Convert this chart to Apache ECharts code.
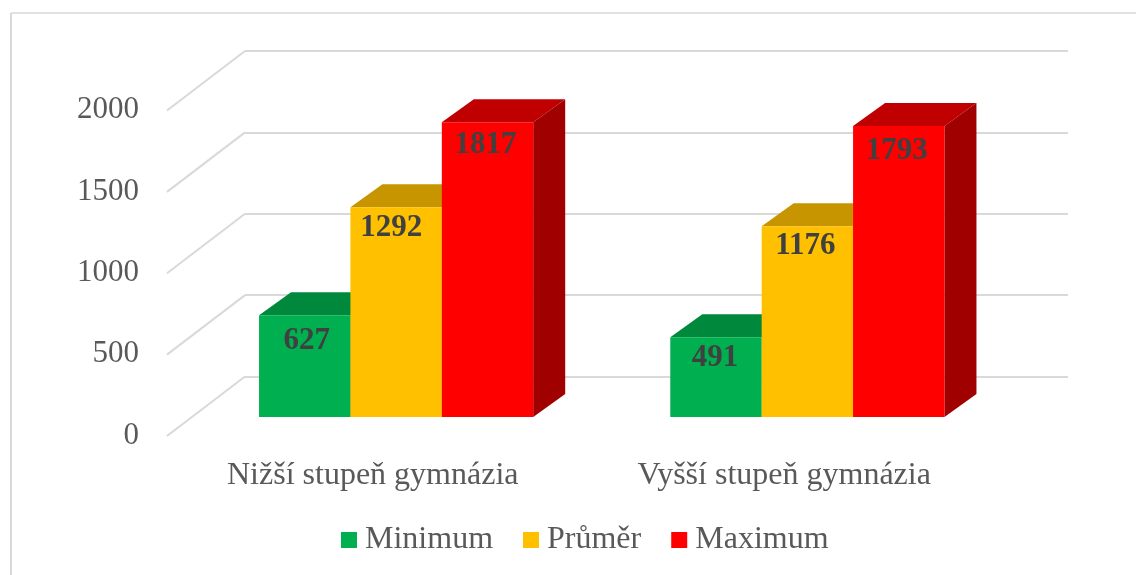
<!DOCTYPE html>
<html>
<head>
<meta charset="utf-8">
<style>html,body{margin:0;padding:0;background:#fff;overflow:hidden}#c{width:1136px;height:575px}</style>
<script src="https://cdn.jsdelivr.net/npm/echarts@6/dist/echarts.min.js"></script>
</head>
<body>
<div id="c"></div>
<script>
const categories = ['Nižší stupeň gymnázia', 'Vyšší stupeň gymnázia'];
const minimum = [627, 491];
const prumer = [1292, 1176];
const maximum = [1817, 1793];
const ticks = [0, 500, 1000, 1500, 2000];
const names = ['Minimum', 'Průměr', 'Maximum'];
const values = [minimum, prumer, maximum];
const front = ['#00B050', '#FFC000', '#FF0000'];
const topC = ['#00883D', '#C79500', '#C00000'];
const sideC = ['#006E32', '#A37A00', '#A00000'];
const labelShift = [[2, 3], [-1, -2], [-5, -2], [-2, -3], [-2, 0], [-2, 2]];
const gapFrac = 1 / 3, depthX = 32, depthY = 23;
const serif = '"Liberation Serif","Times New Roman",serif';

const chart = echarts.init(document.getElementById('c'), null, {renderer: 'canvas'});
const faces = values.map((vals, s) => ({
  type: 'custom', xAxisIndex: 0, yAxisIndex: 0, z: 2, silent: true, clip: false,
  data: vals.map((v, i) => [i, v]), encode: {x: 0, y: 1},
  renderItem: (p, api) => {
    const pt = api.coord([api.value(0), api.value(1)]);
    const y0 = api.coord([api.value(0), 0])[1];
    const w = api.size([1, 0])[0] * (1 - gapFrac) / 3;
    const x = pt[0] - 1.5 * w + s * w, y = pt[1];
    return {type: 'group', children: [
      {type: 'polygon', shape: {points: [[x, y], [x + w, y], [x + w + depthX, y - depthY], [x + depthX, y - depthY]]}, style: {fill: topC[s]}},
      {type: 'polygon', shape: {points: [[x + w, y], [x + w + depthX, y - depthY], [x + w + depthX, y0 - depthY], [x + w, y0]]}, style: {fill: sideC[s]}}
    ]};
  }
}));
const bars = values.map((vals, s) => ({
  name: names[s], type: 'bar', xAxisIndex: 0, yAxisIndex: 0, z: 3,
  barGap: 0, barCategoryGap: '33.33%', itemStyle: {color: front[s]},
  data: vals.map((v, i) => {
    const sh = labelShift[s * 2 + i];
    return {value: v, label: {offset: sh}};
  }),
  label: {show: true, position: 'insideTop', distance: 7, color: '#404040', fontFamily: serif, fontWeight: 'bold', fontSize: 31}
}));
const wall = {
  type: 'custom', xAxisIndex: 1, yAxisIndex: 1, z: 1, silent: true, clip: false,
  data: ticks.map(t => [0, t]), encode: {x: 0, y: 1},
  renderItem: (p, api) => {
    const b = api.coord([0, api.value(1)]);
    return {type: 'line', shape: {x1: b[0], y1: b[1], x2: b[0] - 78, y2: b[1] + 59.5}, style: {stroke: '#D9D9D9', lineWidth: 2}};
  }
};
chart.setOption({
  animation: false,
  backgroundColor: '#fff',
  graphic: [
    {type: 'line', shape: {x1: 11, y1: 13, x2: 1136, y2: 13}, style: {stroke: '#D9D9D9', lineWidth: 1.3}},
    {type: 'line', shape: {x1: 11, y1: 13, x2: 11, y2: 575}, style: {stroke: '#D9D9D9', lineWidth: 2}}
  ],
  grid: [
    {left: 190.5, top: 92.5, width: 822.5, height: 324.5},
    {left: 245, top: 51, width: 823, height: 325.5},
    {left: 167, top: 110, width: 823, height: 325.5}
  ],
  legend: {
    data: names, left: 336, top: 519, icon: 'rect', itemWidth: 16, itemHeight: 16, itemGap: 30, selectedMode: false,
    textStyle: {fontFamily: serif, fontSize: 32, color: '#595959', padding: [0, 0, 0, 3]}
  },
  xAxis: [
    {gridIndex: 0, type: 'category', data: categories, show: false},
    {gridIndex: 1, type: 'value', min: 0, max: 1, show: false},
    {gridIndex: 2, type: 'category', data: categories, axisLine: {show: false}, axisTick: {show: false},
     axisLabel: {margin: 24.5, fontFamily: serif, fontSize: 32, color: '#595959'}}
  ],
  yAxis: [
    {gridIndex: 0, type: 'value', min: 0, max: 2000, interval: 500, show: false},
    {gridIndex: 1, type: 'value', min: 0, max: 2000, interval: 500, axisLine: {show: false}, axisTick: {show: false}, axisLabel: {show: false},
     splitLine: {show: true, lineStyle: {color: '#D9D9D9', width: 2}}},
    {gridIndex: 2, type: 'value', min: 0, max: 2000, interval: 500, axisLine: {show: false}, axisTick: {show: false}, splitLine: {show: false},
     axisLabel: {margin: 28, fontFamily: serif, fontSize: 31, color: '#595959', formatter: v => String(v)}}
  ],
  series: [wall, ...faces, ...bars]
});
</script>
</body>
</html>
